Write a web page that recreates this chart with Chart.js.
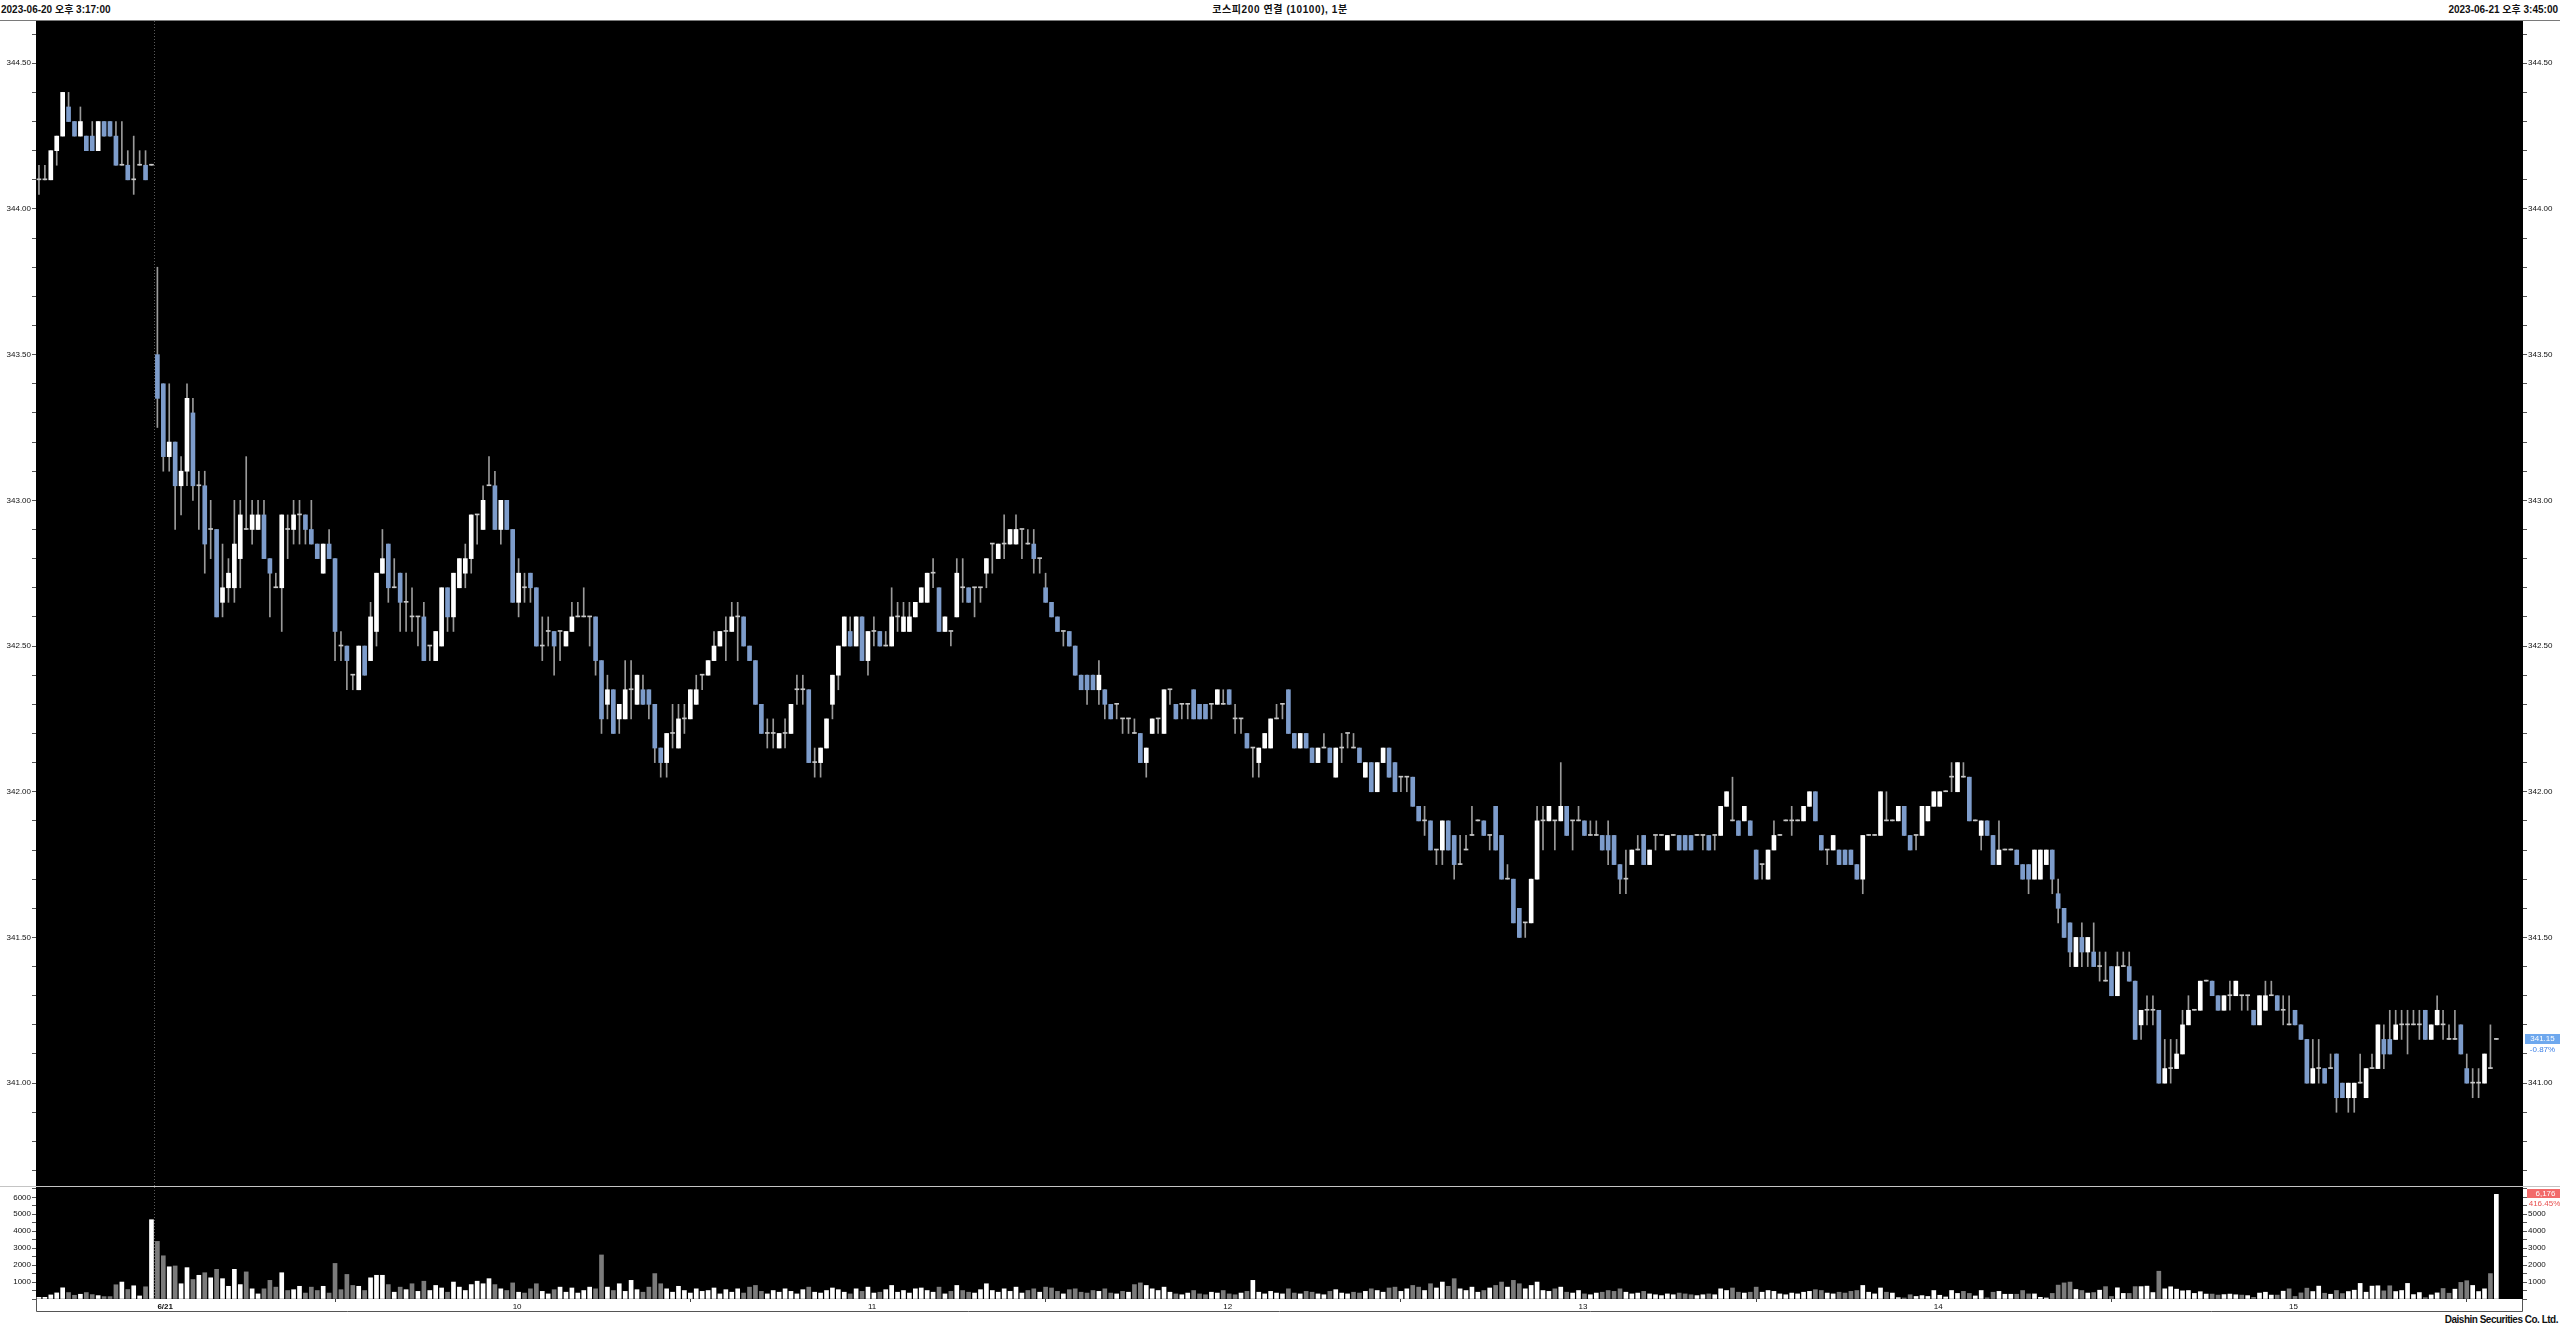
<!DOCTYPE html>
<html lang="ko">
<head>
<meta charset="utf-8">
<title>코스피200 연결 (10100), 1분</title>
<script src="https://cdn.jsdelivr.net/npm/chart.js@4.4.1/dist/chart.umd.min.js"></script>
<style>
  html, body { margin: 0; padding: 0; background: #fff; width: 2560px; height: 1328px; overflow: hidden; }
  .txt { position: absolute; font-family: "Liberation Sans", "Noto Sans CJK KR", sans-serif; font-size: 10px; font-weight: bold; color: #111; white-space: nowrap; line-height: 12px; }
  #hdrLeft { left: 1px; top: 4px; }
  #hdrMid { left: 0; width: 2560px; top: 4px; text-align: center; letter-spacing: 0.6px; }
  #hdrRight { right: 2px; top: 4px; }
  #topLine { position: absolute; left: 0; top: 20px; width: 2560px; height: 1px; background: #7a7a7a; }
  #priceCanvas { position: absolute; left: 0; top: 21px; }
  #volCanvas { position: absolute; left: 0; top: 1186px; }
  #footer { right: 2px; top: 1314px; letter-spacing: -0.5px; }
</style>
</head>
<body>
<div class="txt" id="hdrLeft">2023-06-20 오후 3:17:00</div>
<div class="txt" id="hdrMid">코스피200 연결 (10100), 1분</div>
<div class="txt" id="hdrRight">2023-06-21 오후 3:45:00</div>
<div id="topLine"></div>
<canvas id="priceCanvas" width="2560" height="1165"></canvas>
<canvas id="volCanvas" width="2560" height="126"></canvas>
<div class="txt" id="footer">Daishin Securities Co. Ltd.</div>

<script>
// 1분봉: 6/20 15:17 ~ 6/21 15:45 (bar 20 = 6/21 09:00)
const DAY_START = 20;
const SLOT_COUNT = 420;
const tickIdx = [20, 80, 140, 200, 260, 320, 380];
const tickText = ['6/21', '10', '11', '12', '13', '14', '15'];
const volTicks = [0, 500, 1000, 1500, 2000, 2500, 3000, 3500, 4000, 4500, 5000, 5500, 6000, 6500];
const priceChange = '-0.87%';
const volRatio = '416.45%';
const priceMin = 340.647, priceMax = 344.645;
const volMax = 6610;

const openP = [
  344.10,344.10,344.10,344.20,344.25,344.35,344.30,344.25,344.25,344.25,
  344.20,344.30,344.30,344.25,344.15,344.15,344.10,344.15,344.15,344.15,
  343.50,343.40,343.15,343.20,343.05,343.10,343.30,343.05,343.05,342.90,
  342.90,342.65,342.70,342.70,342.80,342.90,342.90,342.90,342.95,342.80,
  342.70,342.70,342.90,342.90,342.95,342.95,342.90,342.85,342.75,342.85,
  342.80,342.50,342.50,342.40,342.35,342.50,342.45,342.55,342.75,342.85,
  342.70,342.75,342.65,342.60,342.60,342.60,342.50,342.45,342.50,342.70,
  342.60,342.70,342.75,342.80,342.95,342.90,343.05,343.05,342.90,343.00,
  342.90,342.65,342.70,342.75,342.70,342.50,342.55,342.55,342.55,342.50,
  342.55,342.60,342.60,342.60,342.60,342.45,342.30,342.35,342.25,342.25,
  342.35,342.30,342.35,342.35,342.30,342.15,342.10,342.20,342.15,342.25,
  342.25,342.30,342.40,342.40,342.45,342.50,342.55,342.55,342.60,342.60,
  342.50,342.45,342.30,342.20,342.20,342.15,342.20,342.20,342.35,342.35,
  342.35,342.10,342.10,342.15,342.30,342.40,342.50,342.55,342.50,342.60,
  342.45,342.55,342.55,342.50,342.50,342.60,342.55,342.55,342.60,342.65,
  342.65,342.75,342.70,342.55,342.55,342.60,342.70,342.70,342.70,342.70,
  342.75,342.85,342.80,342.85,342.85,342.85,342.90,342.85,342.85,342.80,
  342.70,342.65,342.60,342.55,342.55,342.50,342.40,342.40,342.40,342.35,
  342.35,342.30,342.30,342.25,342.25,342.20,342.20,342.10,342.20,342.25,
  342.20,342.35,342.30,342.30,342.30,342.35,342.30,342.30,342.30,342.30,
  342.30,342.35,342.25,342.25,342.20,342.15,342.10,342.15,342.15,342.25,
  342.30,342.35,342.20,342.15,342.20,342.15,342.10,342.15,342.15,342.05,
  342.15,342.20,342.15,342.15,342.05,342.10,342.00,342.10,342.15,342.10,
  342.05,342.05,342.05,341.95,341.90,341.90,341.80,341.80,341.90,341.85,
  341.75,341.80,341.85,341.90,341.90,341.85,341.95,341.85,341.70,341.70,
  341.60,341.55,341.55,341.70,341.90,341.90,341.90,341.90,341.95,341.90,
  341.90,341.90,341.85,341.85,341.85,341.85,341.85,341.75,341.70,341.75,
  341.80,341.85,341.75,341.85,341.85,341.80,341.85,341.85,341.85,341.85,
  341.85,341.85,341.85,341.85,341.85,341.95,341.90,341.90,341.90,341.90,
  341.80,341.75,341.70,341.80,341.85,341.90,341.90,341.90,341.90,341.95,
  342.00,341.85,341.80,341.80,341.80,341.80,341.80,341.75,341.70,341.85,
  341.85,341.85,341.90,341.90,341.90,341.95,341.85,341.85,341.85,341.90,
  341.95,341.95,342.00,342.05,342.00,342.05,342.05,341.90,341.85,341.90,
  341.85,341.75,341.80,341.80,341.80,341.75,341.75,341.70,341.70,341.75,
  341.80,341.65,341.60,341.55,341.40,341.50,341.45,341.45,341.40,341.35,
  341.40,341.30,341.40,341.40,341.35,341.20,341.25,341.25,341.25,341.00,
  341.05,341.05,341.10,341.20,341.25,341.25,341.35,341.35,341.30,341.25,
  341.30,341.30,341.30,341.30,341.25,341.20,341.25,341.30,341.30,341.25,
  341.20,341.25,341.20,341.15,341.00,341.05,341.05,341.05,341.10,341.00,
  340.95,340.95,341.00,340.95,341.05,341.05,341.15,341.15,341.15,341.20,
  341.20,341.20,341.20,341.25,341.15,341.20,341.20,341.15,341.15,341.20,
  341.05,341.00,341.00,341.00,341.05,341.15
];
const highP = [
  344.15,344.15,344.20,344.25,344.40,344.40,344.30,344.35,344.25,344.30,
  344.30,344.30,344.30,344.30,344.30,344.20,344.25,344.20,344.20,344.15,
  343.80,343.40,343.40,343.20,343.15,343.40,343.35,343.10,343.10,343.00,
  342.90,342.85,342.80,343.00,343.00,343.15,343.00,343.00,343.00,342.80,
  342.75,342.95,342.95,343.00,343.00,342.95,343.00,342.85,342.85,342.90,
  342.80,342.55,342.50,342.40,342.50,342.50,342.65,342.75,342.90,342.85,
  342.80,342.75,342.75,342.70,342.60,342.65,342.50,342.55,342.70,342.70,
  342.75,342.80,342.85,342.95,342.95,343.05,343.15,343.10,343.00,343.00,
  342.90,342.80,342.75,342.75,342.70,342.60,342.60,342.55,342.55,342.55,
  342.65,342.65,342.70,342.60,342.60,342.45,342.40,342.35,342.30,342.45,
  342.45,342.40,342.40,342.35,342.30,342.15,342.20,342.30,342.30,342.30,
  342.35,342.40,342.40,342.45,342.55,342.55,342.60,342.65,342.65,342.60,
  342.50,342.45,342.30,342.25,342.25,342.20,342.25,342.30,342.40,342.40,
  342.35,342.15,342.15,342.25,342.40,342.50,342.60,342.60,342.60,342.60,
  342.55,342.60,342.55,342.55,342.70,342.65,342.65,342.65,342.65,342.70,
  342.75,342.80,342.70,342.60,342.55,342.80,342.80,342.70,342.70,342.70,
  342.80,342.85,342.85,342.95,342.90,342.95,342.90,342.90,342.90,342.80,
  342.75,342.65,342.60,342.55,342.55,342.50,342.40,342.40,342.40,342.45,
  342.35,342.30,342.30,342.25,342.25,342.25,342.20,342.15,342.25,342.25,
  342.35,342.35,342.30,342.30,342.30,342.35,342.30,342.30,342.30,342.35,
  342.35,342.35,342.30,342.25,342.20,342.15,342.15,342.20,342.25,342.30,
  342.30,342.35,342.20,342.20,342.20,342.15,342.15,342.20,342.15,342.15,
  342.20,342.20,342.20,342.15,342.10,342.10,342.10,342.15,342.15,342.10,
  342.05,342.05,342.05,341.95,341.95,341.90,341.80,341.90,341.90,341.85,
  341.85,341.85,341.95,341.90,341.90,341.85,341.95,341.85,341.75,341.70,
  341.60,341.55,341.70,341.95,341.95,341.95,341.90,342.10,341.95,341.90,
  341.95,341.90,341.90,341.90,341.85,341.90,341.85,341.75,341.80,341.80,
  341.85,341.85,341.80,341.85,341.85,341.85,341.85,341.85,341.85,341.85,
  341.85,341.85,341.85,341.85,341.95,342.00,342.05,341.90,341.95,341.90,
  341.80,341.75,341.80,341.90,341.85,341.90,341.95,341.90,341.95,342.00,
  342.00,341.85,341.80,341.85,341.80,341.80,341.80,341.75,341.85,341.85,
  341.85,342.00,342.00,341.90,341.95,341.95,341.85,341.85,341.95,341.95,
  342.00,342.00,342.00,342.10,342.10,342.10,342.05,341.90,341.90,341.90,
  341.85,341.90,341.80,341.80,341.80,341.75,341.75,341.80,341.80,341.80,
  341.80,341.70,341.60,341.55,341.50,341.55,341.50,341.55,341.45,341.45,
  341.40,341.45,341.45,341.45,341.35,341.25,341.30,341.30,341.25,341.15,
  341.15,341.15,341.25,341.30,341.25,341.35,341.35,341.35,341.30,341.30,
  341.35,341.35,341.30,341.30,341.25,341.30,341.35,341.35,341.30,341.30,
  341.30,341.25,341.20,341.15,341.15,341.15,341.05,341.10,341.10,341.00,
  341.00,341.00,341.10,341.05,341.10,341.20,341.20,341.25,341.25,341.25,
  341.25,341.25,341.25,341.25,341.20,341.30,341.25,341.20,341.25,341.20,
  341.10,341.05,341.05,341.10,341.20,341.15
];
const lowP = [
  344.05,344.10,344.10,344.15,344.25,344.30,344.25,344.25,344.20,344.20,
  344.20,344.25,344.25,344.15,344.15,344.10,344.05,344.15,344.10,344.15,
  343.25,343.10,343.10,342.90,342.95,343.05,343.00,342.90,342.75,342.80,
  342.60,342.60,342.65,342.65,342.70,342.90,342.85,342.90,342.80,342.60,
  342.70,342.55,342.80,342.85,342.85,342.85,342.85,342.80,342.75,342.80,
  342.45,342.45,342.35,342.35,342.35,342.40,342.45,342.50,342.75,342.65,
  342.70,342.55,342.55,342.55,342.50,342.45,342.45,342.45,342.50,342.55,
  342.55,342.70,342.70,342.75,342.85,342.90,343.05,342.90,342.85,342.90,
  342.65,342.60,342.65,342.65,342.50,342.45,342.50,342.40,342.45,342.50,
  342.55,342.60,342.60,342.50,342.40,342.20,342.25,342.20,342.20,342.25,
  342.25,342.30,342.30,342.25,342.10,342.05,342.05,342.15,342.15,342.20,
  342.25,342.30,342.35,342.40,342.45,342.50,342.45,342.55,342.45,342.50,
  342.45,342.30,342.20,342.15,342.15,342.15,342.15,342.20,342.30,342.30,
  342.10,342.05,342.05,342.15,342.25,342.35,342.50,342.50,342.50,342.45,
  342.40,342.50,342.50,342.50,342.50,342.55,342.55,342.55,342.60,342.65,
  342.65,342.70,342.55,342.55,342.50,342.60,342.65,342.65,342.60,342.65,
  342.70,342.75,342.80,342.80,342.85,342.85,342.80,342.85,342.75,342.75,
  342.65,342.60,342.55,342.50,342.50,342.40,342.35,342.30,342.35,342.30,
  342.25,342.25,342.25,342.20,342.20,342.20,342.10,342.05,342.20,342.20,
  342.20,342.30,342.25,342.25,342.25,342.25,342.25,342.25,342.25,342.30,
  342.30,342.30,342.20,342.20,342.15,342.05,342.05,342.15,342.15,342.25,
  342.25,342.20,342.15,342.15,342.15,342.10,342.10,342.15,342.10,342.05,
  342.10,342.15,342.15,342.10,342.05,342.00,342.00,342.10,342.05,342.00,
  342.00,342.00,341.95,341.90,341.85,341.80,341.75,341.75,341.80,341.70,
  341.75,341.80,341.85,341.90,341.85,341.80,341.80,341.70,341.70,341.55,
  341.50,341.50,341.55,341.70,341.80,341.90,341.80,341.90,341.85,341.80,
  341.90,341.85,341.85,341.85,341.80,341.75,341.75,341.65,341.65,341.75,
  341.80,341.75,341.75,341.80,341.85,341.80,341.85,341.80,341.80,341.80,
  341.85,341.80,341.80,341.80,341.85,341.95,341.90,341.85,341.90,341.85,
  341.70,341.70,341.70,341.80,341.85,341.90,341.85,341.90,341.90,341.95,
  341.90,341.80,341.75,341.80,341.75,341.75,341.75,341.70,341.65,341.85,
  341.85,341.85,341.90,341.90,341.90,341.85,341.80,341.80,341.85,341.90,
  341.95,341.95,342.00,342.00,342.00,342.05,341.90,341.90,341.80,341.85,
  341.75,341.75,341.80,341.80,341.75,341.70,341.65,341.70,341.70,341.75,
  341.65,341.55,341.50,341.40,341.40,341.40,341.40,341.40,341.35,341.35,
  341.30,341.30,341.40,341.35,341.15,341.15,341.20,341.20,341.00,341.00,
  341.00,341.05,341.10,341.20,341.25,341.25,341.35,341.30,341.25,341.25,
  341.25,341.30,341.25,341.25,341.20,341.20,341.25,341.30,341.25,341.20,
  341.20,341.20,341.15,341.00,341.00,341.00,341.00,341.05,340.90,340.95,
  340.90,340.90,341.00,340.95,341.05,341.05,341.05,341.10,341.15,341.15,
  341.10,341.20,341.15,341.15,341.15,341.20,341.15,341.15,341.15,341.10,
  341.00,340.95,340.95,341.00,341.05,341.15
];
const closeP = [
  344.10,344.10,344.20,344.25,344.40,344.30,344.25,344.30,344.20,344.20,
  344.30,344.25,344.25,344.15,344.15,344.10,344.10,344.15,344.10,344.15,
  343.35,343.15,343.20,343.05,343.10,343.35,343.05,343.05,342.85,342.90,
  342.60,342.70,342.75,342.85,342.95,342.90,342.95,342.95,342.80,342.75,
  342.70,342.95,342.90,342.95,342.95,342.90,342.85,342.80,342.85,342.80,
  342.55,342.50,342.45,342.40,342.50,342.40,342.60,342.75,342.80,342.70,
  342.70,342.65,342.65,342.60,342.60,342.45,342.50,342.55,342.70,342.60,
  342.75,342.80,342.80,342.95,342.95,343.00,343.05,342.90,343.00,342.90,
  342.65,342.75,342.70,342.70,342.50,342.50,342.55,342.50,342.55,342.55,
  342.60,342.60,342.60,342.60,342.45,342.25,342.35,342.20,342.30,342.35,
  342.35,342.40,342.30,342.30,342.15,342.10,342.20,342.20,342.25,342.25,
  342.35,342.35,342.40,342.45,342.50,342.55,342.55,342.60,342.60,342.50,
  342.45,342.30,342.20,342.20,342.20,342.20,342.20,342.30,342.35,342.35,
  342.10,342.10,342.15,342.25,342.40,342.50,342.60,342.50,342.60,342.45,
  342.55,342.55,342.50,342.50,342.60,342.60,342.60,342.60,342.65,342.70,
  342.75,342.75,342.55,342.60,342.55,342.75,342.70,342.65,342.70,342.70,
  342.80,342.85,342.85,342.85,342.90,342.90,342.90,342.85,342.80,342.80,
  342.65,342.60,342.55,342.55,342.50,342.40,342.35,342.35,342.35,342.40,
  342.30,342.25,342.30,342.25,342.25,342.20,342.10,342.15,342.25,342.25,
  342.35,342.35,342.25,342.30,342.30,342.25,342.25,342.25,342.30,342.35,
  342.30,342.30,342.25,342.25,342.15,342.15,342.15,342.20,342.25,342.25,
  342.30,342.20,342.15,342.20,342.15,342.10,342.15,342.15,342.10,342.15,
  342.15,342.20,342.15,342.10,342.10,342.00,342.10,342.15,342.05,342.00,
  342.05,342.05,341.95,341.90,341.90,341.80,341.80,341.90,341.80,341.75,
  341.75,341.80,341.85,341.90,341.85,341.85,341.80,341.70,341.70,341.55,
  341.50,341.55,341.70,341.90,341.90,341.95,341.90,341.95,341.85,341.90,
  341.90,341.85,341.85,341.85,341.80,341.80,341.75,341.70,341.70,341.80,
  341.80,341.75,341.80,341.85,341.85,341.85,341.85,341.80,341.80,341.80,
  341.85,341.85,341.80,341.85,341.95,342.00,341.90,341.85,341.95,341.85,
  341.70,341.75,341.80,341.85,341.85,341.90,341.90,341.90,341.95,342.00,
  341.90,341.80,341.80,341.85,341.75,341.75,341.75,341.70,341.85,341.85,
  341.85,342.00,341.90,341.90,341.95,341.85,341.80,341.85,341.95,341.95,
  342.00,342.00,342.00,342.05,342.10,342.05,341.90,341.90,341.90,341.85,
  341.75,341.80,341.80,341.80,341.75,341.70,341.70,341.80,341.80,341.80,
  341.70,341.60,341.50,341.45,341.50,341.45,341.50,341.40,341.40,341.35,
  341.30,341.40,341.40,341.35,341.15,341.25,341.25,341.25,341.00,341.05,
  341.05,341.10,341.20,341.25,341.25,341.35,341.35,341.30,341.25,341.30,
  341.30,341.35,341.30,341.30,341.20,341.30,341.30,341.30,341.25,341.25,
  341.20,341.20,341.15,341.00,341.05,341.05,341.00,341.05,340.95,340.95,
  341.00,341.00,341.00,341.05,341.05,341.20,341.10,341.10,341.20,341.20,
  341.20,341.20,341.20,341.15,341.20,341.25,341.20,341.15,341.15,341.10,
  341.00,341.00,341.00,341.10,341.05,341.15
];
const volumes = [
  100,100,240,360,660,380,220,280,380,260,
  200,140,140,840,1000,560,780,180,720,4680,
  3400,2550,1900,1950,900,1850,1150,1400,1550,1250,
  1750,1200,750,1750,850,1600,600,300,600,1100,
  700,1550,500,550,750,350,700,500,750,350,
  2100,550,1450,800,750,500,1250,1400,1400,850,
  400,700,550,900,450,1050,500,800,650,400,
  1000,700,500,850,1050,900,1200,850,600,500,
  950,400,350,600,900,450,300,550,700,400,
  650,350,500,700,600,2600,700,500,900,450,
  1100,550,400,700,1500,900,600,400,750,500,
  350,600,450,500,650,300,550,400,600,350,
  700,800,450,300,500,400,600,450,300,550,
  700,400,350,500,650,550,400,300,600,450,
  700,350,400,550,800,400,500,350,600,650,
  500,400,700,300,450,800,500,400,350,550,
  900,500,400,600,450,700,350,500,600,400,
  700,650,450,300,550,600,400,350,500,450,
  600,350,300,450,400,850,950,800,600,500,
  700,400,300,250,350,500,300,250,400,350,
  500,300,250,350,450,1100,400,300,450,350,
  300,600,350,300,450,400,300,250,450,550,
  350,300,400,350,450,600,500,400,650,700,
  450,600,800,700,500,900,650,1000,750,1200,
  600,500,700,400,500,650,800,1000,700,1100,
  900,600,800,1000,500,450,600,700,400,350,
  500,300,250,350,400,500,450,600,400,300,
  350,450,300,250,200,300,250,350,300,250,
  200,250,300,250,600,500,650,400,350,400,
  700,400,500,450,300,250,350,300,400,450,
  550,500,350,300,400,350,450,500,800,400,
  300,650,400,350,
  80,60,250,150,200,150,500,220,120,500,
  330,450,330,180,500,70,400,450,280,280,
  280,500,300,300,100,60,330,820,950,1000,
  560,500,350,380,520,730,150,660,330,330,
  730,730,760,380,1640,600,720,580,480,500,
  330,430,290,290,230,260,290,250,230,200,
  100,350,400,230,230,460,600,150,
  360,640,440,760,340,280,500,320,440,520,
  920,400,760,780,480,780,440,500,920,260,
  380,80,240,360,620,340,580,980,1080,800,
  440,600,1500,6176
];

const UP = '#ffffff', DOWN = '#7d9ccb', FLAT = '#c8c8c8', WICK = '#9a9a9a';
const VOL_UP = '#ffffff', VOL_DOWN = '#7b7b7b';
const AXIS_FONT = "'Liberation Sans Narrow','Liberation Sans',Arial,sans-serif";
const AXIS_COLOR = '#111';

Chart.defaults.font.family = AXIS_FONT;
Chart.defaults.font.size = 8;
Chart.defaults.color = AXIS_COLOR;

const labels = Array.from({ length: SLOT_COUNT }, (_, i) => i);
const bodies = openP.map((o, i) => [o, closeP[i]]);
const wicks = lowP.map((l, i) => [l, highP[i]]);

function candleDir(i) {
  if (closeP[i] > openP[i]) return 1;
  if (closeP[i] < openP[i]) return -1;
  return 0;
}
function volUp(i) {
  const d = candleDir(i);
  if (d !== 0) return d > 0;
  return i === 0 || closeP[i] >= closeP[i - 1];
}
function onStep(v, step) {
  const r = v / step;
  return Math.abs(r - Math.round(r)) < 1e-6;
}

// 차트 영역 검정 배경
const blackArea = {
  id: 'blackArea',
  beforeDraw(chart) {
    const { ctx, chartArea: a } = chart;
    ctx.save();
    ctx.fillStyle = '#000';
    ctx.fillRect(a.left, a.top, a.right - a.left, a.bottom - a.top);
    ctx.restore();
  }
};

// 날짜 구분 점선
const dayLine = {
  id: 'dayLine',
  beforeDatasetsDraw(chart) {
    const { ctx, chartArea: a } = chart;
    const slotW = (a.right - a.left) / SLOT_COUNT;
    const px = Math.round(chart.scales.x.getPixelForValue(DAY_START) - slotW / 2) + 0.5;
    ctx.save();
    ctx.strokeStyle = '#5a5a5a';
    ctx.lineWidth = 1;
    ctx.setLineDash([1, 2]);
    ctx.beginPath();
    ctx.moveTo(px, a.top);
    ctx.lineTo(px, a.bottom);
    ctx.stroke();
    ctx.restore();
  }
};

// 현재가 표시
const lastPriceTag = {
  id: 'lastPriceTag',
  afterDraw(chart) {
    const { ctx, chartArea: a } = chart;
    const last = closeP[closeP.length - 1];
    const y = Math.round(chart.scales.y.getPixelForValue(last));
    const x0 = a.right + 2, x1 = chart.width;
    ctx.save();
    ctx.fillStyle = '#6ea8ee';
    ctx.fillRect(x0, y - 5, x1 - x0, 10);
    ctx.font = '8px ' + AXIS_FONT;
    ctx.textAlign = 'center';
    ctx.textBaseline = 'middle';
    ctx.fillStyle = '#ffffff';
    ctx.fillText(last.toFixed(2), (x0 + x1) / 2, y);
    ctx.fillStyle = '#3a7ee6';
    ctx.fillText(priceChange, (x0 + x1) / 2, y + 11);
    ctx.restore();
  }
};

// 거래량 현재값 표시
const lastVolTag = {
  id: 'lastVolTag',
  afterDraw(chart) {
    const { ctx, chartArea: a } = chart;
    const last = volumes[volumes.length - 1];
    const y = Math.round(chart.scales.y.getPixelForValue(last));
    const x0 = a.right + 4, x1 = chart.width;
    ctx.save();
    ctx.fillStyle = '#f26b6b';
    ctx.fillRect(x0, y - 5, x1 - x0, 9);
    ctx.font = '8px ' + AXIS_FONT;
    ctx.textAlign = 'center';
    ctx.textBaseline = 'middle';
    ctx.fillStyle = '#ffffff';
    ctx.fillText(last.toLocaleString('en-US'), (x0 + x1) / 2 + 2, y);
    ctx.fillStyle = '#e8504f';
    ctx.fillText(volRatio, (x0 + x1) / 2 + 1, y + 10);
    ctx.restore();
  }
};

// 거래량 패널 테두리
const volFrame = {
  id: 'volFrame',
  afterDraw(chart) {
    const { ctx, chartArea: a } = chart;
    const yb = chart.height - 0.5;
    ctx.save();
    ctx.lineWidth = 1;
    ctx.strokeStyle = '#c4c4c4';
    ctx.beginPath();
    ctx.moveTo(0, 0.5);
    ctx.lineTo(chart.width, 0.5);
    ctx.stroke();
    ctx.strokeStyle = '#555';
    ctx.beginPath();
    ctx.moveTo(a.left + 0.5, a.bottom);
    ctx.lineTo(a.left + 0.5, yb);
    ctx.lineTo(a.right - 0.5, yb);
    ctx.lineTo(a.right - 0.5, a.bottom);
    ctx.stroke();
    ctx.restore();
  }
};

function sideGrid() {
  return { drawOnChartArea: false, drawTicks: true, tickLength: 4, tickColor: '#555', tickWidth: 1 };
}

function priceAxis(pos, width) {
  return {
    type: 'linear',
    position: pos,
    min: priceMin,
    max: priceMax,
    afterBuildTicks: s => { s.ticks = s.ticks.filter(t => onStep(t.value, 0.1)); },
    afterFit: s => { s.width = width; s.paddingTop = 0; s.paddingBottom = 0; },
    ticks: {
      stepSize: 0.1,
      maxTicksLimit: 1000,
      autoSkip: false,
      padding: 1,
      color: AXIS_COLOR,
      callback: v => onStep(v, 0.5) ? v.toFixed(2) : ''
    },
    grid: sideGrid(),
    border: { display: false }
  };
}

function volAxis(pos, width, showTop) {
  return {
    type: 'linear',
    position: pos,
    min: 0,
    max: volMax,
    afterBuildTicks: s => { s.ticks = volTicks.map(v => ({ value: v })); },
    afterFit: s => { s.width = width; s.paddingTop = 0; s.paddingBottom = 0; },
    ticks: {
      autoSkip: false,
      padding: 1,
      color: AXIS_COLOR,
      callback: v => (v > 0 && v % 1000 === 0 && (showTop || v < 6000)) ? String(v) : ''
    },
    grid: sideGrid(),
    border: { display: false }
  };
}

const baseOptions = {
  responsive: false,
  animation: false,
  devicePixelRatio: 1,
  events: [],
  plugins: { legend: { display: false }, tooltip: { enabled: false } }
};

new Chart(document.getElementById('priceCanvas'), {
  type: 'bar',
  data: {
    labels,
    datasets: [
      {
        label: '몸통',
        data: bodies,
        grouped: false,
        barThickness: 4,
        minBarLength: 1,
        borderWidth: 0,
        backgroundColor: c => {
          const d = candleDir(c.dataIndex);
          return d > 0 ? UP : d < 0 ? DOWN : FLAT;
        }
      },
      {
        label: '꼬리',
        data: wicks,
        grouped: false,
        barThickness: 1,
        minBarLength: 1,
        borderWidth: 0,
        backgroundColor: WICK
      }
    ]
  },
  options: {
    ...baseOptions,
    layout: { padding: 0 },
    scales: {
      x: {
        type: 'category',
        display: false,
        offset: true,
        grid: { display: false }
      },
      y: priceAxis('left', 36),
      y2: priceAxis('right', 37)
    }
  },
  plugins: [blackArea, dayLine, lastPriceTag]
});

new Chart(document.getElementById('volCanvas'), {
  type: 'bar',
  data: {
    labels,
    datasets: [
      {
        label: '거래량',
        data: volumes,
        barThickness: 4,
        borderWidth: 0,
        backgroundColor: c => volUp(c.dataIndex) ? VOL_UP : VOL_DOWN
      }
    ]
  },
  options: {
    ...baseOptions,
    layout: { padding: { top: 1 } },
    scales: {
      x: {
        type: 'category',
        position: 'bottom',
        offset: true,
        afterBuildTicks: s => { s.ticks = s.ticks.filter(t => tickIdx.includes(t.value)); },
        afterFit: s => { s.height = 13; s.paddingLeft = 0; s.paddingRight = 0; },
        ticks: {
          autoSkip: false,
          maxRotation: 0,
          minRotation: 0,
          align: 'start',
          padding: 0,
          color: AXIS_COLOR,
          font: c => ({ size: 8, weight: c.index === 0 ? 'bold' : 'normal' }),
          callback: v => tickText[tickIdx.indexOf(v)]
        },
        grid: { drawOnChartArea: false, drawTicks: true, tickLength: 3, tickColor: '#444' },
        border: { display: false }
      },
      y: volAxis('left', 36, true),
      y2: volAxis('right', 37, false)
    }
  },
  plugins: [blackArea, dayLine, lastVolTag, volFrame]
});
</script>
</body>
</html>
